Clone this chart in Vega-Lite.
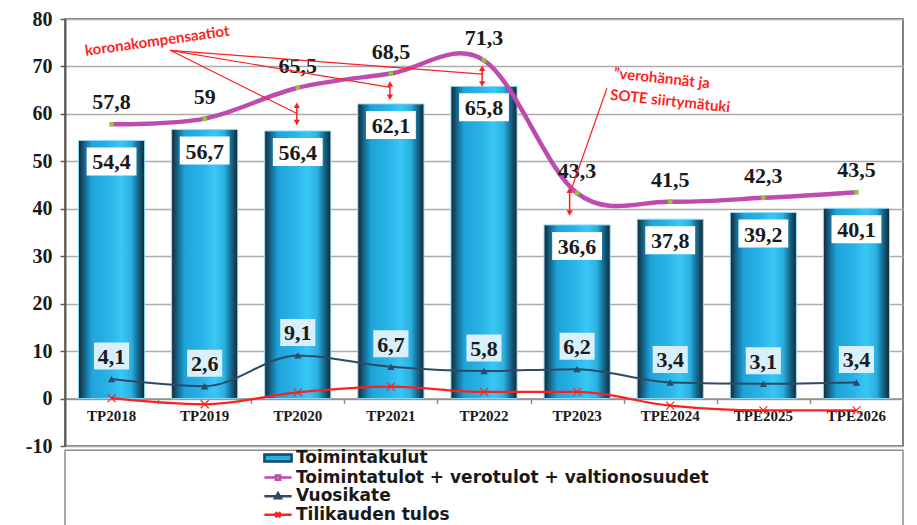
{
  "$schema": "https://vega.github.io/schema/vega-lite/v6.json",
  "width": 838,
  "height": 427,
  "autosize": {"type": "none"},
  "padding": {"left": 65, "top": 19, "right": 14, "bottom": 79},
  "background": "#ffffff",
  "config": {
    "locale": {"number": {"decimal": ",", "thousands": " ", "grouping": [3], "currency": ["", " €"], "minus": "-"}},
    "view": {"stroke": "#595959", "strokeWidth": 1.5},
    "axisY": {"labelFont": "Liberation Serif", "labelFontWeight": "bold", "labelFontSize": 20, "labelColor": "#1a1a1a", "labelPadding": 8, "tickSize": 5, "tickColor": "#595959", "tickWidth": 1.5, "domainColor": "#595959", "domainWidth": 2, "gridColor": "#ababab", "gridWidth": 1.5},
    "legend": {"orient": "none", "legendX": 203, "legendY": 429, "labelFont": "DejaVu Sans", "labelFontWeight": "bold", "labelFontSize": 17, "labelColor": "#1a1a1a", "labelOffset": 8, "symbolSize": 289, "symbolStrokeWidth": 2.5, "rowPadding": 0.6, "padding": 0, "labelLimit": 700, "symbolOpacity": 1}
  },
  "datasets": {
    "main": [
      {"year": "TP2018", "kulut": 54.4, "tulot": 57.8, "vuosikate": 4.1, "tulos": 0.1},
      {"year": "TP2019", "kulut": 56.7, "tulot": 59, "vuosikate": 2.6, "tulos": -1.2},
      {"year": "TP2020", "kulut": 56.4, "tulot": 65.5, "vuosikate": 9.1, "tulos": 1.3},
      {"year": "TP2021", "kulut": 62.1, "tulot": 68.5, "vuosikate": 6.7, "tulos": 2.5},
      {"year": "TP2022", "kulut": 65.8, "tulot": 71.3, "vuosikate": 5.8, "tulos": 1.4},
      {"year": "TP2023", "kulut": 36.6, "tulot": 43.3, "vuosikate": 6.2, "tulos": 1.4},
      {"year": "TPE2024", "kulut": 37.8, "tulot": 41.5, "vuosikate": 3.4, "tulos": -1.5},
      {"year": "TPE2025", "kulut": 39.2, "tulot": 42.3, "vuosikate": 3.1, "tulos": -2.5},
      {"year": "TPE2026", "kulut": 40.1, "tulot": 43.5, "vuosikate": 3.4, "tulos": -2.5}
    ],
    "legendItems": [
      {"series": "Toimintakulut"},
      {"series": "Toimintatulot + verotulot + valtionosuudet"},
      {"series": "Vuosikate"},
      {"series": "Tilikauden tulos"}
    ],
    "callouts": [
      {"x0": 0.63, "y0": 73.4, "x1": 1.99, "y1": 60.1},
      {"x0": 0.63, "y0": 73.4, "x1": 2.99, "y1": 65.6},
      {"x0": 0.63, "y0": 73.4, "x1": 3.98, "y1": 68.4},
      {"x0": 5.32, "y0": 65.4, "x1": 4.945, "y1": 44.5}
    ],
    "arrows": [
      {"x": 1.99, "top": 61.8, "bot": 58.2},
      {"x": 2.99, "top": 66.3, "bot": 63.5},
      {"x": 3.98, "top": 69.6, "bot": 66.3},
      {"x": 4.92, "top": 43.9, "bot": 39.1}
    ],
    "notes": [
      {"note": "korona", "x": 0.49, "y": 75.4, "text": "koronakompensaatiot"},
      {"note": "sote", "x": 5.91, "y": 67.5, "text": "”verohännät ja"},
      {"note": "sote", "x": 6.0, "y": 62.7, "text": "SOTE siirtymätuki"}
    ]
  },
  "layer": [
    {
      "data": {"name": "main"},
      "layer": [
        {
          "mark": {"type": "bar", "stroke": "#8fdaf7", "strokeWidth": 1,
            "fill": {"gradient": "linear", "x1": 0, "x2": 1, "y1": 0, "y2": 0,
              "stops": [
                {"offset": 0, "color": "#182630"},
                {"offset": 0.1, "color": "#136c93"},
                {"offset": 0.2, "color": "#1ea3d9"},
                {"offset": 0.45, "color": "#28b3e7"},
                {"offset": 0.65, "color": "#39c7f6"},
                {"offset": 0.8, "color": "#2ab0e0"},
                {"offset": 0.9, "color": "#136a90"},
                {"offset": 1, "color": "#182630"}
              ]}},
          "encoding": {
            "x": {"field": "year", "type": "nominal", "sort": null, "title": null,
              "scale": {"paddingInner": 0.29, "paddingOuter": 0.145},
              "axis": {"orient": "bottom", "offset": -47.44, "labelAngle": 0, "labelFont": "Liberation Serif", "labelFontWeight": "bold", "labelFontSize": 15, "labelColor": "#1a1a1a", "labelPadding": 10, "ticks": false, "domainColor": "#8c8c8c", "domainWidth": 1.5, "grid": false, "title": null}},
            "y": {"field": "kulut", "type": "quantitative", "title": null, "scale": {"domain": [-10, 80], "nice": false},
              "axis": {"values": [-10, 0, 10, 20, 30, 40, 50, 60, 70, 80], "title": null, "grid": true}}
          }
        },
        {
          "mark": {"type": "point", "shape": "M-1.78,-1H1.78V1H-1.78Z", "size": 784, "filled": true, "fill": "#ffffff", "opacity": 1, "strokeWidth": 0, "yOffset": 21},
          "encoding": {
            "x": {"field": "year", "type": "nominal", "sort": null},
            "y": {"field": "kulut", "type": "quantitative", "title": null}
          }
        },
        {
          "mark": {"type": "text", "font": "Liberation Serif", "fontWeight": "bold", "fontSize": 22, "color": "#1a1a1a", "baseline": "middle", "dy": 22},
          "encoding": {
            "x": {"field": "year", "type": "nominal", "sort": null},
            "y": {"field": "kulut", "type": "quantitative", "title": null},
            "text": {"field": "kulut", "type": "quantitative", "format": ".1~f"}
          }
        },
        {
          "mark": {"type": "line", "color": "#2e4a68", "strokeWidth": 2, "interpolate": "monotone"},
          "encoding": {
            "x": {"field": "year", "type": "nominal", "sort": null},
            "y": {"field": "vuosikate", "type": "quantitative", "title": null}
          }
        },
        {
          "mark": {"type": "point", "shape": "triangle-up", "size": 55, "filled": true, "color": "#2e4a68", "opacity": 1},
          "encoding": {
            "x": {"field": "year", "type": "nominal", "sort": null},
            "y": {"field": "vuosikate", "type": "quantitative", "title": null}
          }
        },
        {
          "mark": {"type": "line", "color": "#ff1f1f", "strokeWidth": 2.2, "interpolate": "monotone"},
          "encoding": {
            "x": {"field": "year", "type": "nominal", "sort": null},
            "y": {"field": "tulos", "type": "quantitative", "title": null}
          }
        },
        {
          "mark": {"type": "point", "shape": "M-1,-1L1,1M-1,1L1,-1", "size": 64, "filled": false, "color": "#ff1f1f", "strokeWidth": 1.2, "opacity": 1},
          "encoding": {
            "x": {"field": "year", "type": "nominal", "sort": null},
            "y": {"field": "tulos", "type": "quantitative", "title": null}
          }
        },
        {
          "mark": {"type": "line", "color": "#bd4bb0", "strokeWidth": 4.5, "interpolate": "cardinal"},
          "encoding": {
            "x": {"field": "year", "type": "nominal", "sort": null},
            "y": {"field": "tulot", "type": "quantitative", "title": null}
          }
        },
        {
          "mark": {"type": "point", "shape": "square", "size": 20, "filled": true, "color": "#8dc63f", "opacity": 1},
          "encoding": {
            "x": {"field": "year", "type": "nominal", "sort": null},
            "y": {"field": "tulot", "type": "quantitative", "title": null}
          }
        },
        {
          "mark": {"type": "text", "font": "Liberation Serif", "fontWeight": "bold", "fontSize": 22, "color": "#1a1a1a", "baseline": "middle", "dy": -22},
          "encoding": {
            "x": {"field": "year", "type": "nominal", "sort": null},
            "y": {"field": "tulot", "type": "quantitative", "title": null},
            "text": {"field": "tulot", "type": "quantitative", "format": ".1~f"}
          }
        },
        {
          "mark": {"type": "point", "shape": "M-1.3,-1H1.3V1H-1.3Z", "size": 729, "filled": true, "fill": "#d9f0fb", "opacity": 1, "strokeWidth": 0, "yOffset": -23},
          "encoding": {
            "x": {"field": "year", "type": "nominal", "sort": null},
            "y": {"field": "vuosikate", "type": "quantitative", "title": null}
          }
        },
        {
          "mark": {"type": "text", "font": "Liberation Serif", "fontWeight": "bold", "fontSize": 22, "color": "#1a1a1a", "baseline": "middle", "dy": -22},
          "encoding": {
            "x": {"field": "year", "type": "nominal", "sort": null},
            "y": {"field": "vuosikate", "type": "quantitative", "title": null},
            "text": {"field": "vuosikate", "type": "quantitative", "format": ".1~f"}
          }
        },
        {
          "data": {"name": "legendItems"},
          "transform": [{"filter": "datum.series === 'none'"}],
          "mark": {"type": "point", "filled": true, "opacity": 1, "strokeWidth": 2.5},
          "encoding": {
            "fill": {"field": "series", "type": "nominal", "legend": {"title": null},
              "scale": {"domain": ["Toimintakulut", "Toimintatulot + verotulot + valtionosuudet", "Vuosikate", "Tilikauden tulos"],
                "range": ["#24aee3", "#8dc63f", "#2e4a68", "#ff1f1f"]}},
            "stroke": {"field": "series", "type": "nominal", "legend": {"title": null},
              "scale": {"domain": ["Toimintakulut", "Toimintatulot + verotulot + valtionosuudet", "Vuosikate", "Tilikauden tulos"],
                "range": ["#104a66", "#bd4bb0", "#2e4a68", "#ff1f1f"]}},
            "shape": {"field": "series", "type": "nominal", "legend": {"title": null},
              "scale": {"domain": ["Toimintakulut", "Toimintatulot + verotulot + valtionosuudet", "Vuosikate", "Tilikauden tulos"],
                "range": ["M-1.6,-0.4H1.6V0.4H-1.6Z", "M-1.6,0H-0.25M0.25,0H1.6M-0.25,-0.25H0.25V0.25H-0.25Z", "M-1.6,0H1.6M0,-0.35L0.35,0.25H-0.35Z", "M-1.6,0H1.6M-0.3,-0.3L0.3,0.3M-0.3,0.3L0.3,-0.3"]}}
          }
        }
      ]
    },
    {
      "layer": [
        {
          "data": {"values": [{}]},
          "mark": {"type": "rect", "fill": "transparent", "stroke": "#8c8c8c", "strokeWidth": 1.5},
          "encoding": {
            "x": {"datum": -0.5, "type": "quantitative", "scale": {"domain": [-0.5, 8.5], "nice": false, "zero": false},
              "axis": {"orient": "bottom", "offset": -47.44, "values": [0.5, 1.5, 2.5, 3.5, 4.5, 5.5, 6.5, 7.5], "labels": false, "domain": false, "grid": false, "ticks": true, "tickSize": 5, "tickColor": "#8c8c8c", "tickWidth": 1.5, "title": null}},
            "x2": {"datum": 8.5},
            "y": {"datum": -10.9, "type": "quantitative", "scale": {"domain": [-10, 80], "nice": false}, "title": null},
            "y2": {"datum": -40}
          }
        },
        {
          "data": {"name": "callouts"},
          "mark": {"type": "rule", "color": "#ff1f1f", "strokeWidth": 1.2},
          "encoding": {
            "x": {"field": "x0", "type": "quantitative", "scale": {"domain": [-0.5, 8.5], "nice": false, "zero": false}},
            "x2": {"field": "x1"},
            "y": {"field": "y0", "type": "quantitative", "scale": {"domain": [-10, 80], "nice": false}, "title": null},
            "y2": {"field": "y1"}
          }
        },
        {
          "data": {"name": "arrows"},
          "mark": {"type": "rule", "color": "#ff1f1f", "strokeWidth": 1.5},
          "encoding": {
            "x": {"field": "x", "type": "quantitative", "scale": {"domain": [-0.5, 8.5], "nice": false, "zero": false}},
            "y": {"field": "top", "type": "quantitative", "scale": {"domain": [-10, 80], "nice": false}, "title": null},
            "y2": {"field": "bot"}
          }
        },
        {
          "data": {"name": "arrows"},
          "mark": {"type": "point", "shape": "triangle-up", "size": 40, "filled": true, "color": "#ff1f1f", "opacity": 1},
          "encoding": {
            "x": {"field": "x", "type": "quantitative", "scale": {"domain": [-0.5, 8.5], "nice": false, "zero": false}},
            "y": {"field": "top", "type": "quantitative", "scale": {"domain": [-10, 80], "nice": false}, "title": null}
          }
        },
        {
          "data": {"name": "arrows"},
          "mark": {"type": "point", "shape": "triangle-down", "size": 40, "filled": true, "color": "#ff1f1f", "opacity": 1},
          "encoding": {
            "x": {"field": "x", "type": "quantitative", "scale": {"domain": [-0.5, 8.5], "nice": false, "zero": false}},
            "y": {"field": "bot", "type": "quantitative", "scale": {"domain": [-10, 80], "nice": false}, "title": null}
          }
        },
        {
          "data": {"name": "notes"},
          "transform": [{"filter": "datum.note === 'korona'"}],
          "mark": {"type": "text", "font": "Lato", "fontWeight": "bold", "fontSize": 15, "color": "#ff1f1f", "angle": 352, "align": "center", "baseline": "middle"},
          "encoding": {
            "x": {"field": "x", "type": "quantitative", "scale": {"domain": [-0.5, 8.5], "nice": false, "zero": false}},
            "y": {"field": "y", "type": "quantitative", "scale": {"domain": [-10, 80], "nice": false}, "title": null},
            "text": {"field": "text", "type": "nominal"}
          }
        },
        {
          "data": {"name": "notes"},
          "transform": [{"filter": "datum.note === 'sote'"}],
          "mark": {"type": "text", "font": "Lato", "fontWeight": "bold", "fontSize": 15, "color": "#ff1f1f", "angle": 6, "align": "center", "baseline": "middle"},
          "encoding": {
            "x": {"field": "x", "type": "quantitative", "scale": {"domain": [-0.5, 8.5], "nice": false, "zero": false}},
            "y": {"field": "y", "type": "quantitative", "scale": {"domain": [-10, 80], "nice": false}, "title": null},
            "text": {"field": "text", "type": "nominal"}
          }
        }
      ]
    }
  ],
  "resolve": {"scale": {"x": "independent"}, "axis": {"x": "independent"}}
}
